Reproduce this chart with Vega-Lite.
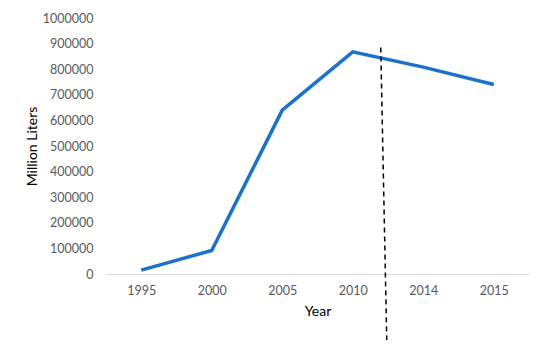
{
  "$schema": "https://vega.github.io/schema/vega-lite/v6.json",
  "width": 423,
  "height": 256,
  "autosize": "none",
  "padding": {"left": 106, "top": 18, "right": 21, "bottom": 70},
  "background": "white",
  "config": {
    "view": {"stroke": null},
    "font": "Lato",
    "axis": {"grid": false, "ticks": false, "labelFont": "Lato", "titleFont": "Lato", "labelColor": "#595959", "labelFontSize": 12.5, "titleColor": "#000000", "titleFontSize": 14, "titleFontWeight": "normal"}
  },
  "datasets": {
    "series": [
      {"Year": "1995", "value": 15000},
      {"Year": "2000", "value": 92000},
      {"Year": "2005", "value": 640000},
      {"Year": "2010", "value": 868000},
      {"Year": "2014", "value": 808000},
      {"Year": "2015", "value": 740000}
    ],
    "marker": [
      {"Year": "2010", "top": 885000, "bottom": -258000}
    ]
  },
  "layer": [
    {
      "data": {"name": "series"},
      "mark": {"type": "line", "color": "#1C71C9", "strokeWidth": 3.5, "strokeJoin": "miter"},
      "encoding": {
        "x": {"field": "Year", "type": "ordinal", "sort": null, "scale": {"type": "point", "padding": 0.5},
              "axis": {"labelAngle": 0, "domainColor": "#d9d9d9", "labelPadding": 10, "title": "Year", "titlePadding": 8}},
        "y": {"field": "value", "type": "quantitative", "scale": {"domain": [0, 1000000]},
              "axis": {"values": [0,100000,200000,300000,400000,500000,600000,700000,800000,900000,1000000], "format": "d", "domain": false, "labelOverlap": false, "labelPadding": 13, "title": "Million Liters", "titlePadding": 3}}
      }
    },
    {
      "data": {"name": "marker"},
      "mark": {"type": "rule", "color": "#000000", "strokeWidth": 1.5, "strokeDash": [5, 4], "xOffset": 28, "x2Offset": 34},
      "encoding": {
        "x": {"field": "Year", "type": "ordinal", "sort": null,
              "axis": {"labelAngle": 0, "domainColor": "#d9d9d9", "labelPadding": 10, "title": "Year", "titlePadding": 8}},
        "x2": {"field": "Year"},
        "y": {"field": "top", "type": "quantitative",
              "axis": {"values": [0,100000,200000,300000,400000,500000,600000,700000,800000,900000,1000000], "format": "d", "domain": false, "labelOverlap": false, "labelPadding": 13, "title": "Million Liters", "titlePadding": 3}},
        "y2": {"field": "bottom"}
      }
    }
  ]
}
